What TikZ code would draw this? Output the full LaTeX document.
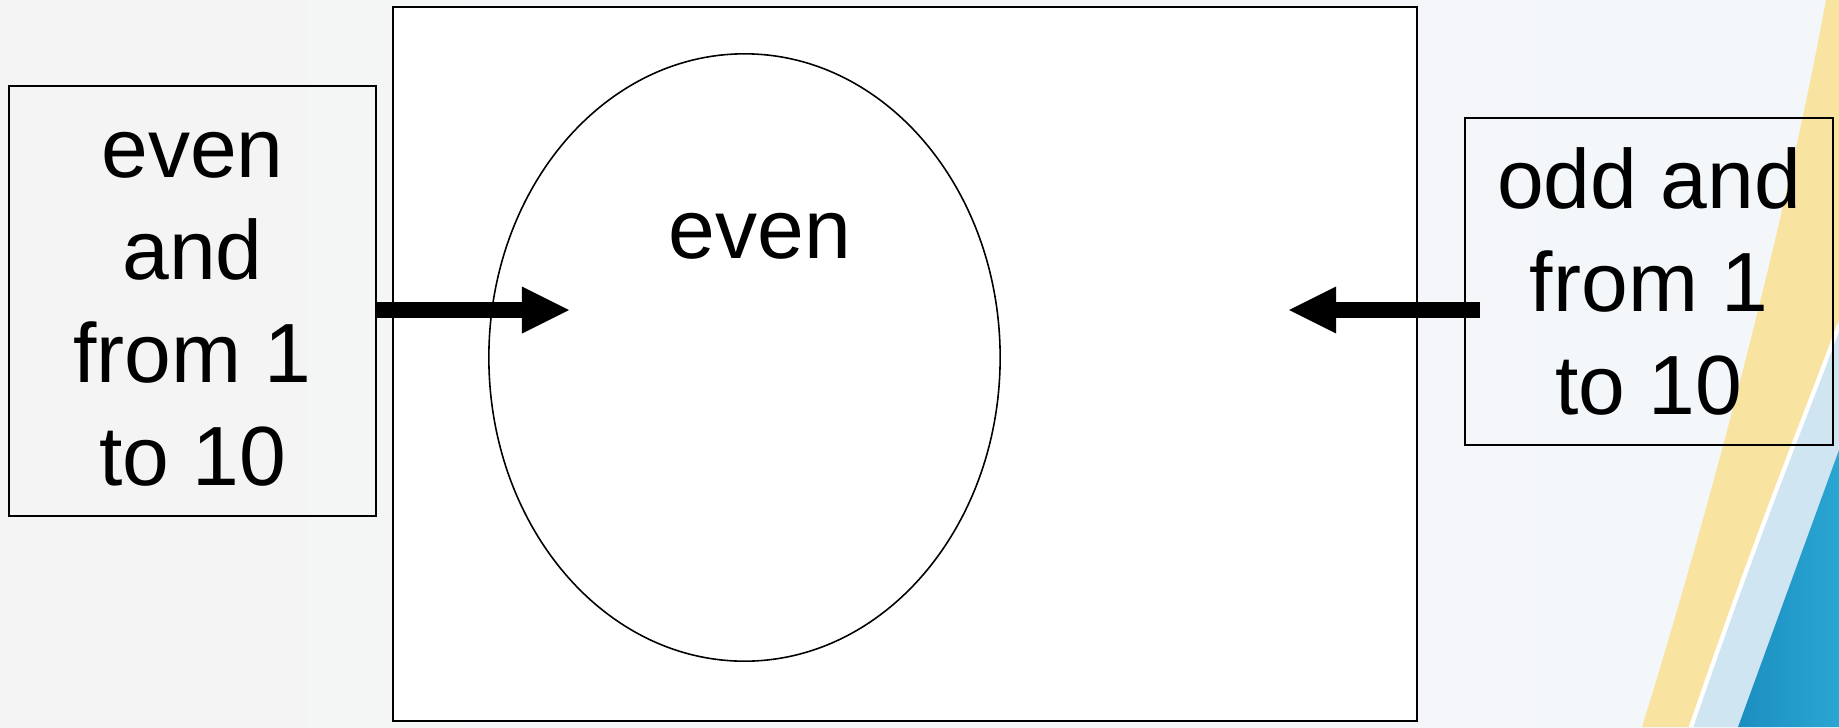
\documentclass[tikz,border=0pt]{standalone}
\usepackage{fontspec}
\setmainfont{Liberation Sans}
\usetikzlibrary{calc, positioning}
\usetikzlibrary{arrows.meta}
\usetikzlibrary{shapes.geometric}

\definecolor{slidegray}{HTML}{F4F4F4}
\definecolor{slidepale}{HTML}{F4F7FA}
\definecolor{swoopyellow}{HTML}{F8E3A0}
\definecolor{swooplight}{HTML}{CFE5F2}
\definecolor{swoopblue}{HTML}{2AA6D3}
\definecolor{swoopdeep}{HTML}{1B8EC0}

\begin{document}
\begin{tikzpicture}[x=0.01cm, y=-0.01cm,
  txtbox/.style={draw, line width=0.6pt, align=center, inner sep=0pt,
    font=\fontsize{23.9}{29.2}\selectfont},
  bigarrow/.style={line width=0.16cm,
    -{Triangle[length=0.47cm, width=0.47cm, line width=0pt]}}]
\useasboundingbox (0,0) rectangle (1839,727);

% slide background
\shade[left color=slidegray, right color=slidepale] (0,0) rectangle (1839,727);
\fill[swoopyellow] (1642,727) .. controls (1700,540) and (1780,250) .. (1826,0)
  -- (1839,0) -- (1839,320) .. controls (1810,400) and (1760,520) .. (1689,727) -- cycle;
\fill[swooplight] (1693,727) .. controls (1762,525) and (1812,405) .. (1839,330)
  -- (1839,450) -- (1738,727) -- cycle;
\shade[left color=swoopdeep, right color=swoopblue] (1738,727) -- (1839,450) -- (1839,727) -- cycle;
\draw[white, line width=1.2pt] (1691,727) .. controls (1761,522) and (1811,402) .. (1839,325);

% the set and its subset
\node[draw, fill=white, line width=0.6pt, minimum width=10.24cm, minimum height=7.14cm]
  (stage) at (905,364) {};
\node[ellipse, draw, fill=white, line width=0.45pt, inner sep=0pt,
  minimum width=5.11cm, minimum height=6.07cm] (evenset) at (744.5,357.5) {};
\node[font=\fontsize{23.9}{29.2}\selectfont] (evenlabel) at (760,236) {even};

% the two statements
\node[txtbox, minimum width=3.67cm, minimum height=4.30cm] (evens) at (192.5,301)
  {\vphantom{d}even\\and\\from 1\\to 10};
\node[txtbox, minimum width=3.68cm, minimum height=3.27cm] (odds) at (1649,281.5)
  {odd and\\from 1\\to 10};

\coordinate (inhead) at (569,310);
\coordinate (outhead) at (1289,310);

\draw[bigarrow] (evens.east |- inhead) -- (inhead);
\draw[bigarrow] ($(odds.west)+(16,28.5)$) -- (outhead);
\end{tikzpicture}
\end{document}
